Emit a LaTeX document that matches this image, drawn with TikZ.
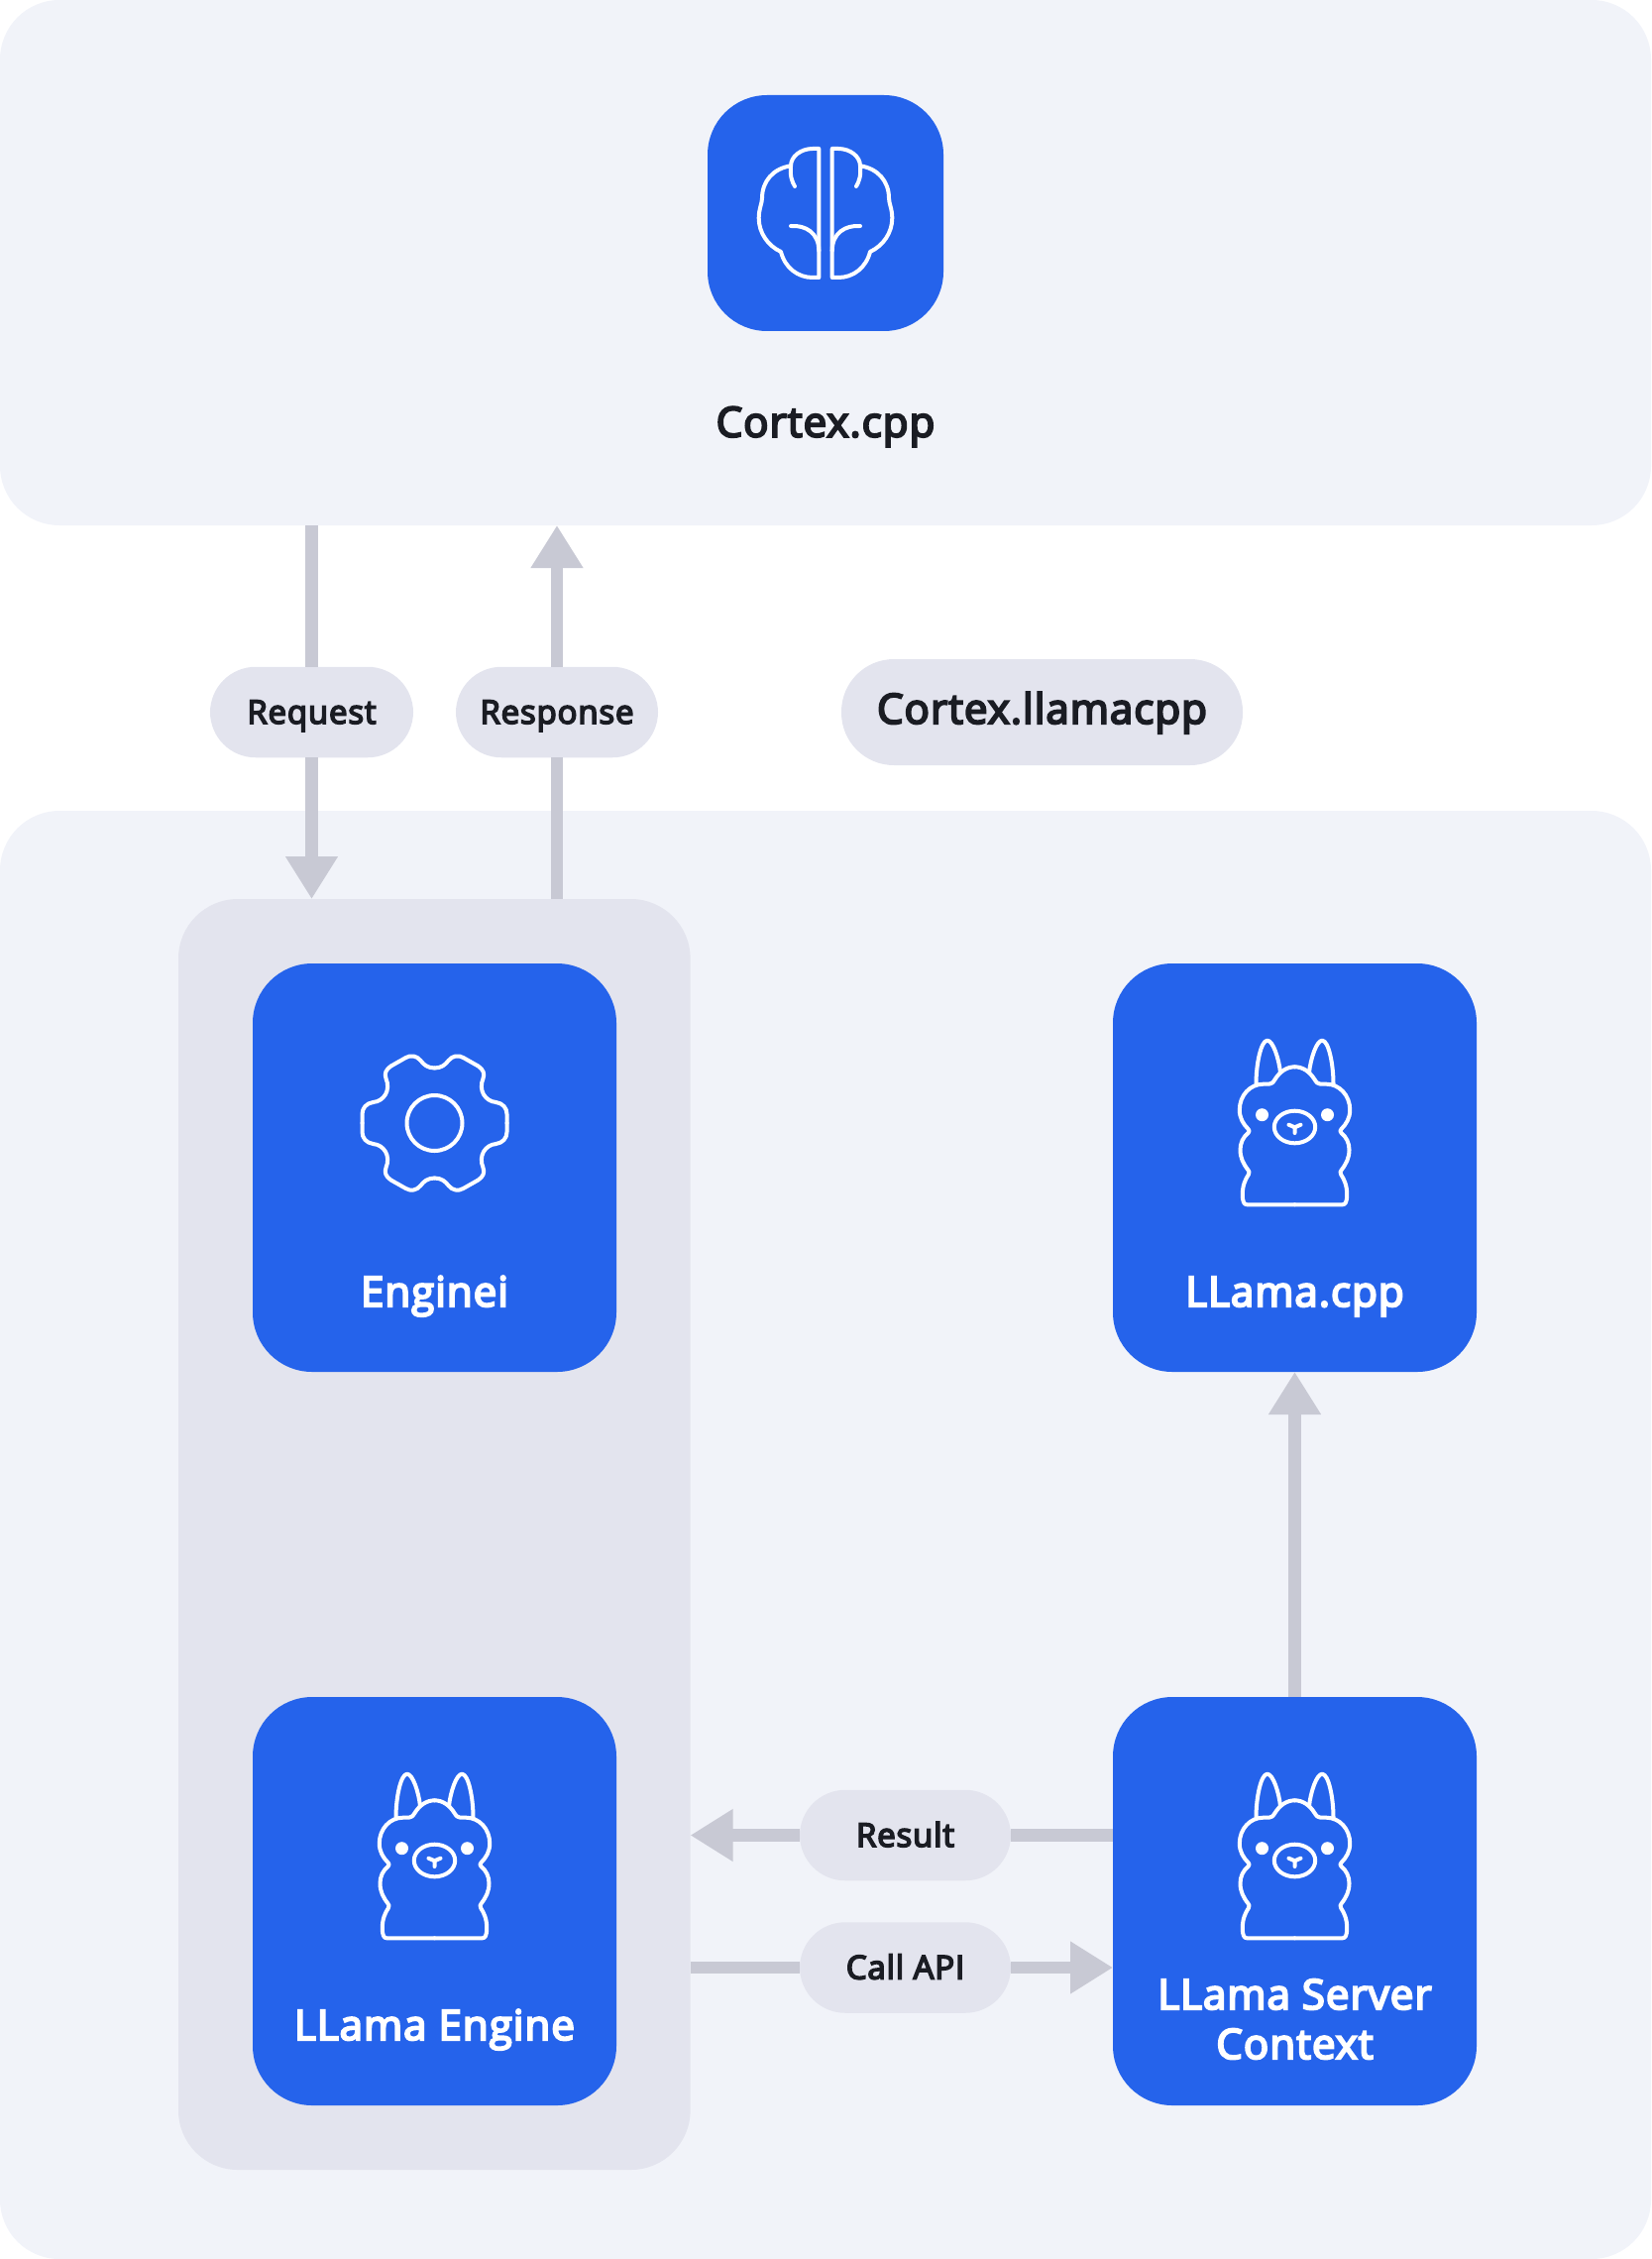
\documentclass[tikz,border=0pt]{standalone}
\usepackage{fontspec}
\setmainfont{Open Sans}
\newfontfamily\diagramfont{Open Sans}[FakeBold=5,LetterSpace=2.5]
\usetikzlibrary{positioning,arrows.meta,calc}
\definecolor{panelcolor}{HTML}{F1F3F9}
\definecolor{groupcolor}{HTML}{E3E4EE}
\definecolor{brand}{HTML}{2563EB}
\definecolor{wire}{HTML}{C8C9D4}
\definecolor{ink}{HTML}{1A1C23}
\tikzset{
	panel box/.style={
		rectangle,
		fill=panelcolor,
		rounded corners=30pt,
		minimum width=833pt,
		anchor=north west,
		outer sep=0pt
	},
	group box/.style={
		rectangle,
		fill=groupcolor,
		rounded corners=30pt,
		minimum width=258.3pt,
		minimum height=641pt,
		anchor=north west,
		outer sep=0pt
	},
	engine box/.style={
		rectangle,
		fill=brand,
		rounded corners=30pt,
		minimum width=183.5pt,
		minimum height=206pt,
		outer sep=0pt
	},
	box title/.style={
		text=white,
		font=\fontsize{21}{25}\diagramfont,
		align=center,
		anchor=base,
		inner sep=0pt
	},
	edge label/.style={
		rectangle,
		fill=groupcolor,
		text=ink,
		rounded corners=23pt,
		minimum height=45.75pt,
		text height=11.5pt,% keeps all baselines alike
		text depth=0pt,
		inner sep=0pt,
		outer sep=0pt,
		font=\fontsize{16.5}{20}\diagramfont
	},
	link/.style={
		draw=wire,
		line width=6.25pt
	},
	link tip/.style={
		link,
		-{Triangle[length=21.5pt,width=25pt]}
	},
	icon line/.style={
		draw=white,
		line width=2pt,
		line cap=round,
		line join=round
	},
	brain icon/.pic={
		\foreach \side in {1,-1} {
			\begin{scope}[xscale=\side]
				\draw[icon line] (-6.7,65) -- (-6.7,-65) -- (-13,-65) .. controls (-25,-65) and (-35,-57) .. (-35,-47.7)
					.. controls (-53,-45) and (-64,-32) .. (-64,-15)
					.. controls (-64,-10) and (-67.3,-4) .. (-67.3,5)
					.. controls (-67.3,20) and (-58,33) .. (-45,39)
					.. controls (-41,55) and (-28,65) .. (-13,65) -- cycle;
				\draw[icon line] (-35,-47.7) .. controls (-36,-38) and (-34,-32) .. (-31,-27);
				\draw[icon line] (-35,13) .. controls (-20,12) and (-6.7,20) .. (-6.7,38);
			\end{scope}
		}
	},
	gear icon/.pic={
		\foreach \sidex in {1,-1} {
			\foreach \sidey in {1,-1} {
				\draw[icon line,xscale=\sidex,yscale=\sidey] (0,-55.5)
					.. controls (7,-55.5) and (11,-59) .. (14,-63)
					.. controls (18,-68) and (24,-69) .. (29,-66) -- (44,-57.5)
					.. controls (49,-54) and (51,-50) .. (49,-45)
					.. controls (44,-33) and (51,-22) .. (62,-21)
					.. controls (69,-20) and (73,-15) .. (73,-9) -- (73,0);
			}
		}
		\draw[icon line] (0,0) circle [x radius=28,y radius=28];
	},
	llama icon/.pic={
		\foreach \side in {1,-1} {
			\begin{scope}[xscale=\side]
				\draw[icon line] (0,82.3) -- (-48,82.3) .. controls (-51,82.3) and (-52.7,80) .. (-52.7,72)
					.. controls (-52.7,63) and (-50,57) .. (-46.7,52)
					.. controls (-45.5,50) and (-46,48.5) .. (-47,47.5)
					.. controls (-52,41) and (-55,35) .. (-55,27)
					.. controls (-55,20) and (-52,14) .. (-47,10)
					.. controls (-45.5,8.5) and (-45.5,7.5) .. (-47,6)
					.. controls (-52,1) and (-55.7,-5) .. (-55.7,-13.3)
					.. controls (-55.7,-28) and (-45,-39.3) .. (-32,-39.3) -- (-26,-39.3)
					.. controls (-23,-39.3) and (-22,-41) .. (-20,-44)
					.. controls (-15,-52) and (-8,-56.7) .. (0,-56.7);
				\draw[icon line] (-39,-39.3) .. controls (-39,-60) and (-34,-83.3) .. (-27.7,-83.3)
					.. controls (-22,-83.3) and (-16,-65) .. (-14.5,-51);
				\fill[white] (-33,-8.3) circle [x radius=6.5,y radius=6.5];
			\end{scope}
		}
		\draw[icon line] (0,4) circle [x radius=20.7,y radius=16.3];
		\draw[icon line] (-6,1.7) -- (0,4.3) -- (6,1.7) (0,4.3) -- (0,10);
	}
}
\begin{document}
\begin{tikzpicture}[x=0.5pt,y=-0.5pt]
	\useasboundingbox (0,0) rectangle (1666,2279);
	% panels
	\node[panel box,minimum height=265pt] (cortex panel) at (0,0) {};
	\node[panel box,minimum height=730.5pt] (llamacpp panel) at (0,818) {};
	\node[group box] (engine group) at (180,907) {};
	% blue boxes
	\node[engine box,minimum width=119pt,minimum height=119pt] (cortex) at (833,215) {};
	\node[engine box] (enginei) at (438.5,1178) {};
	\node[engine box,below=164pt of enginei] (llama engine) {};
	\node[engine box,right=250.5pt of enginei] (llamacpp) {};
	\node[engine box,below=164pt of llamacpp] (server) {};
	% icons
	\pic at (cortex) {brain icon};
	\pic at (438.5,1133) {gear icon};
	\pic at (438.5,1873) {llama icon};
	\pic at (1306.5,1133) {llama icon};
	\pic at (1306.5,1873) {llama icon};
	% titles
	\node[box title,text=ink] (cortex title) at (833,440.7) {Cortex.cpp};
	\node[box title] (enginei title) at (438.5,1318) {Enginei};
	\node[box title] (llama engine title) at (438.5,2058) {LLama Engine};
	\node[box title] (llamacpp title) at (1306.5,1318) {LLama.cpp};
	\node[box title] (server title) at (1306.5,2077) {LLama Server\\Context};
	% edge labels
	\node[edge label,minimum width=102.5pt] (request) at (314.5,718.5) {Request};
	\node[edge label,minimum width=102pt] (response) at (562,718.5) {Response};
	\node[edge label,minimum width=202.5pt,minimum height=53.5pt,rounded corners=26.5pt,font=\fontsize{21}{25}\diagramfont] (llamacpp tag) at (1051.5,718.5) {Cortex.llamacpp};
	\node[edge label,minimum width=106.5pt] (result) at (913.5,1851.5) {Result};
	\node[edge label,minimum width=106.5pt] (call api) at (913.5,1985) {Call API};
	% links
	\draw[link] (cortex panel.south -| request) -- (request.north);
	\draw[link tip] (request.south) -- (engine group.north -| request);
	\draw[link] (engine group.north -| response) -- (response.south);
	\draw[link tip] (response.north) -- (cortex panel.south -| response);
	\draw[link tip] (server.north) -- (llamacpp.south);
	\draw[link] (server.west |- result) -- (result.east);
	\draw[link tip] (result.west) -- (engine group.east |- result);
	\draw[link] (engine group.east |- call api) -- (call api.west);
	\draw[link tip] (call api.east) -- (server.west |- call api);
\end{tikzpicture}
\end{document}
